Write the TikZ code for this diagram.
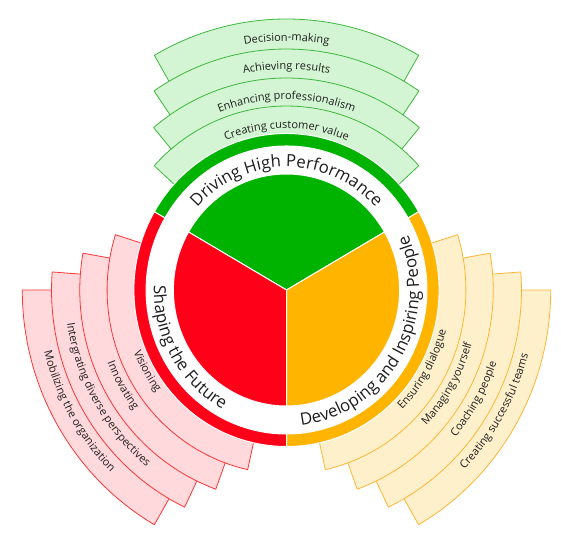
\documentclass[tikz,border=0pt]{standalone}
\usepackage{fontspec}
\setmainfont{Open Sans}
\usetikzlibrary{decorations.text}
\definecolor{gA}{HTML}{00B300}
\definecolor{rA}{HTML}{FF0019}
\definecolor{oA}{HTML}{FFB400}
\definecolor{gL}{HTML}{D4F5D4}
\definecolor{gD}{HTML}{3CB93C}
\definecolor{rL}{HTML}{FFD9DC}
\definecolor{rD}{HTML}{FF3535}
\definecolor{oL}{HTML}{FFF0CC}
\definecolor{oD}{HTML}{FFB534}
\definecolor{txt}{HTML}{1E1E1E}
\newcommand\lblfont{\fontsize{16.8}{20}\selectfont}
\newcommand\bandfont{\fontsize{11}{13}\selectfont}
\newcommand\arctext[5]{\path[decorate,decoration={text along path,text align=center,text={|#5\color{txt}|#4}}] (#1:#3) arc[start angle=#1,end angle=#2,radius=#3];}
\tikzset{
  bandG/.style={fill=gL,draw=gD,line width=0.8pt,line join=round},
  bandR/.style={fill=rL,draw=rD,line width=0.8pt,line join=round},
  bandO/.style={fill=oL,draw=oD,line width=0.8pt,line join=round},
  sep/.style={draw=white,line width=1pt}
}
\begin{document}
\begin{tikzpicture}[x={(0.975pt,0)},y={(0,1pt)}]
\useasboundingbox (-286.5pt,-257pt) rectangle (274.5pt,290pt);
% outer bands, largest first
\foreach \R/\d in {271/30,241/25.7,212/20,184/12.5}{
  \foreach \a/\b/\st in {30/150/bandG,150/270/bandR,270/390/bandO}{
    \pgfmathsetmacro\sa{\a+\d}
    \pgfmathsetmacro\ea{\b-\d}
    \path[\st] (\sa:150) -- (\sa:\R) arc[start angle=\sa,end angle=\ea,radius=\R] -- (\ea:150) arc[start angle=\ea,end angle=\sa,radius=150] -- cycle;
  }
}
% ring
\path[fill=white] (0,0) circle[radius=156.5];
\foreach \a/\b/\c in {30/150/gA,150/270/rA,270/390/oA}{
  \path[fill=\c,sep] (\a:144) -- (\a:156.5) arc[start angle=\a,end angle=\b,radius=156.5] -- (\b:144) arc[start angle=\b,end angle=\a,radius=144] -- cycle;
}
% pie
\foreach \a/\b/\c in {30/150/gA,150/270/rA,270/390/oA}{
  \path[fill=\c,sep] (0,0) -- (\a:116) arc[start angle=\a,end angle=\b,radius=116] -- cycle;
}
% main labels
\arctext{150}{30}{123}{Driving High Performance}{\lblfont}
\arctext{150}{270}{136}{Shaping the Future}{\lblfont}
\arctext{270}{390}{136}{Developing and Inspiring People}{\lblfont}
% green band labels
\arctext{150}{30}{161.5}{Creating customer value}{\bandfont}
\arctext{150}{30}{190.5}{Enhancing professionalism}{\bandfont}
\arctext{150}{30}{220.5}{Achieving results}{\bandfont}
\arctext{150}{30}{249}{Decision-making}{\bandfont}
% red band labels
\arctext{150}{270}{168.5}{Visioning}{\bandfont}
\arctext{150}{270}{197.5}{Innovating}{\bandfont}
\arctext{150}{270}{227.5}{Intergrating diverse perspectives}{\bandfont}
\arctext{150}{270}{256}{Mobilizing the organization}{\bandfont}
% orange band labels
\arctext{270}{390}{168.5}{Ensuring dialogue}{\bandfont}
\arctext{270}{390}{197.5}{Managing yourself}{\bandfont}
\arctext{270}{390}{227.5}{Coaching people}{\bandfont}
\arctext{270}{390}{256}{Creating successful teams}{\bandfont}
\end{tikzpicture}
\end{document}
